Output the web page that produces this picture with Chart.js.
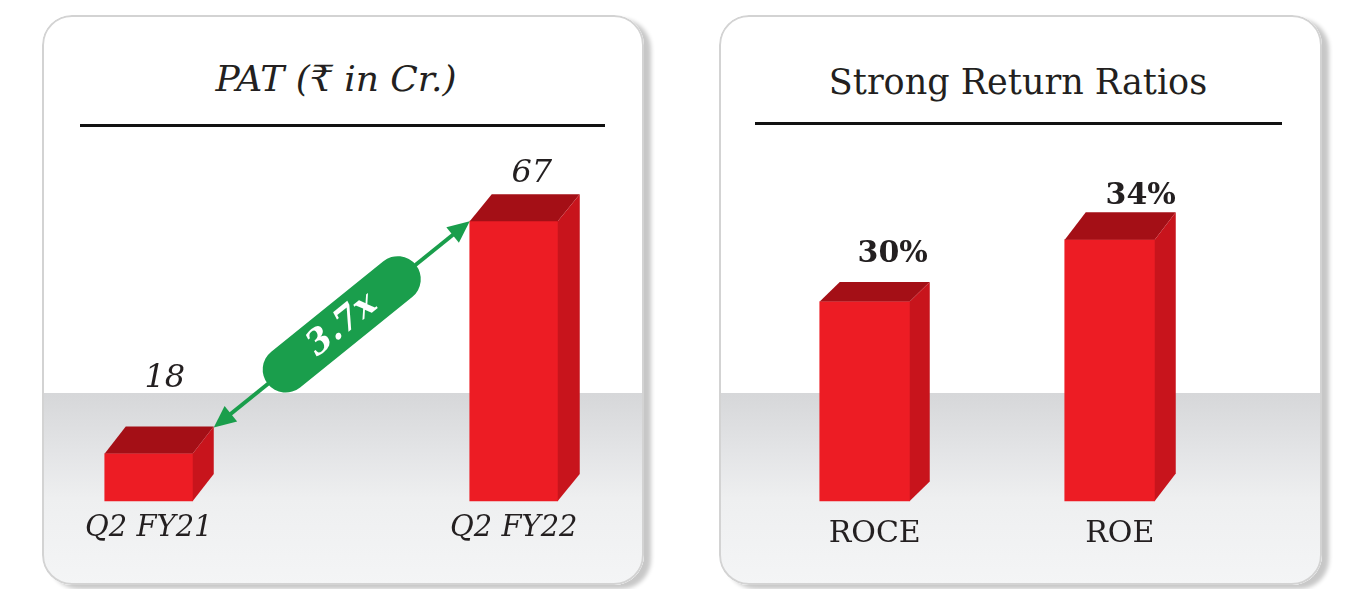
<!DOCTYPE html>
<html>
<head>
<meta charset="utf-8">
<script src="https://cdn.jsdelivr.net/npm/chart.js@4.4.0/dist/chart.umd.min.js"></script>
<style>
body { margin:0; width:1352px; height:589px; background:#fff; position:relative; overflow:hidden; font-family:"DejaVu Serif", "Noto Sans", serif; color:#231f20; }
.card { position:absolute; top:15px; height:570px; border-radius:30px; background:#fff; overflow:hidden; box-shadow: 7px 4px 4px rgba(0,0,0,0.22); }
.band { position:absolute; left:0; right:0; top:378px; bottom:0; background:linear-gradient(#d6d7d9, #e3e4e6 30%, #eeeff0 55%, #f4f5f6); }
.frame { position:absolute; left:0; top:0; right:0; bottom:0; border:2px solid #d3d3d3; border-radius:30px; pointer-events:none; }
.title { position:absolute; left:0; text-align:center; line-height:1; white-space:nowrap; }
.rule { position:absolute; height:3px; background:#111; }
.plot { position:absolute; left:0; top:0; width:100%; height:100%; }
</style>
</head>
<body>

<div class="card" style="left:42px; width:602px;">
  <div class="band"></div>
  <div class="title" style="top:46px; width:588px; font-size:36px; font-style:italic;">PAT (₹ in Cr.)</div>
  <div class="rule" style="left:38px; top:109px; width:525px;"></div>
  <div class="plot"><canvas id="chartPat"></canvas></div>
  <div class="frame"></div>
</div>

<div class="card" style="left:719px; width:603px;">
  <div class="band"></div>
  <div class="title" style="top:50px; width:598px; font-size:35px;">Strong Return Ratios</div>
  <div class="rule" style="left:36px; top:107px; width:527px;"></div>
  <div class="plot"><canvas id="chartRatio"></canvas></div>
  <div class="frame"></div>
</div>

<script>
// ****** datos ******
const patCategories = ['Q2 FY21', 'Q2 FY22'];
const patValues = [18, 67];
const patLabels = ['18', '67'];
const growthLabel = '3.7x';
const patAxis = [8, 82];

const ratioCategories = ['ROCE', 'ROE'];
const ratioValues = [30, 34];
const ratioLabels = ['30%', '34%'];
const ratioAxis = [17.1, 39.8];

const RED = '#ed1c24';
const RED_TOP = '#a40f16';
const RED_SIDE = '#c8141c';
const GREEN = '#1a9e4c';
const INK = '#231f20';

// ****** caras 3D + etiquetas de valor ******
function makeDepthPlugin(cfg) {
    return {
        id: 'depth3d',
        afterDatasetsDraw(chart) {
            const ctx = chart.ctx;
            const bars = chart.getDatasetMeta(0).data;
            bars.forEach(function(bar, i) {
                const p = bar.getProps(['x', 'y', 'base', 'width'], true);
                const xl = p.x - p.width / 2, xr = p.x + p.width / 2;
                const dx = cfg.dx[i], dy = cfg.dy[i];
                ctx.save();
                ctx.fillStyle = RED_TOP;
                ctx.beginPath();
                ctx.moveTo(xl, p.y); ctx.lineTo(xl + dx, p.y - dy);
                ctx.lineTo(xr + dx, p.y - dy); ctx.lineTo(xr, p.y);
                ctx.closePath(); ctx.fill();
                ctx.fillStyle = RED_SIDE;
                ctx.beginPath();
                ctx.moveTo(xr, p.y); ctx.lineTo(xr + dx, p.y - dy);
                ctx.lineTo(xr + dx, p.base - dy); ctx.lineTo(xr, p.base);
                ctx.closePath(); ctx.fill();

                ctx.font = cfg.font;
                ctx.fillStyle = INK;
                ctx.textAlign = 'center';
                ctx.textBaseline = 'alphabetic';
                ctx.fillText(cfg.labels[i], p.x + cfg.labelDx[i], p.y - dy - cfg.lift[i]);
                ctx.restore();
            });
        }
    };
}

// ****** flecha verde 3.7x ******
const growthArrow = {
    id: 'growthArrow',
    afterDatasetsDraw(chart) {
        const ctx = chart.ctx;
        const bars = chart.getDatasetMeta(0).data;
        const b0 = bars[0].getProps(['x', 'y', 'width'], true);
        const b1 = bars[1].getProps(['x', 'y', 'width'], true);
        const a = { x: b0.x + b0.width / 2 + 21, y: b0.y - 26 };
        const b = { x: b1.x - b1.width / 2, y: b1.y };
        const ang = Math.atan2(b.y - a.y, b.x - a.x);
        const len = Math.hypot(b.x - a.x, b.y - a.y);
        ctx.save();
        ctx.translate(a.x, a.y);
        ctx.rotate(ang);
        ctx.fillStyle = GREEN;
        ctx.strokeStyle = GREEN;
        ctx.lineWidth = 4;
        const head = 22, hw = 10;
        ctx.beginPath(); ctx.moveTo(head - 2, 0); ctx.lineTo(len - head + 2, 0); ctx.stroke();
        ctx.beginPath(); ctx.moveTo(0, 0); ctx.lineTo(head, -hw); ctx.lineTo(head, hw); ctx.closePath(); ctx.fill();
        ctx.beginPath(); ctx.moveTo(len, 0); ctx.lineTo(len - head, -hw); ctx.lineTo(len - head, hw); ctx.closePath(); ctx.fill();
        // pastilla
        const pl = 190, pt = 46, cx = len / 2;
        ctx.beginPath();
        ctx.roundRect(cx - pl / 2, -pt / 2, pl, pt, pt / 2);
        ctx.fill();
        ctx.fillStyle = '#fff';
        ctx.font = 'italic bold 34px "DejaVu Serif"';
        ctx.textAlign = 'center';
        ctx.textBaseline = 'middle';
        ctx.fillText(growthLabel, cx, 1);
        ctx.restore();
    }
};

/******Gráfica PAT******/
new Chart(document.getElementById('chartPat'), {
    type: 'bar',
    data: {
        labels: patCategories,
        datasets: [{
            data: patValues,
            base: patAxis[0],
            backgroundColor: RED,
            borderWidth: 0,
            barThickness: 88,
            clip: false
        }]
    },
    options: {
        responsive: true,
        maintainAspectRatio: false,
        animation: false,
        layout: { padding: { left: 106.75, right: 130.25, top: 135, bottom: 29.2 } },
        plugins: { legend: { display: false }, tooltip: { enabled: false } },
        scales: {
            x: {
                offset: false,
                grid: { display: false, drawTicks: false },
                border: { display: false },
                ticks: { color: INK, padding: 10, font: { family: 'DejaVu Serif', size: 29, style: 'italic', lineHeight: 1.2 } }
            },
            y: { display: false, min: patAxis[0], max: patAxis[1] }
        }
    },
    plugins: [makeDepthPlugin({
        dx: [21, 22], dy: [27, 27],
        labels: patLabels, labelDx: [16, 18], lift: [40, 12],
        font: 'italic 32px "DejaVu Serif"'
    }), growthArrow]
});

/******Gráfica ROCE / ROE******/
new Chart(document.getElementById('chartRatio'), {
    type: 'bar',
    data: {
        labels: ratioCategories,
        datasets: [{
            data: ratioValues,
            base: ratioAxis[0],
            backgroundColor: RED,
            borderWidth: 0,
            barThickness: 90,
            clip: false
        }]
    },
    options: {
        responsive: true,
        maintainAspectRatio: false,
        animation: false,
        layout: { padding: { left: 145.75, right: 212.25, top: 135, bottom: 18 } },
        plugins: { legend: { display: false }, tooltip: { enabled: false } },
        scales: {
            x: {
                offset: false,
                grid: { display: false, drawTicks: false },
                border: { display: false },
                ticks: { color: INK, padding: 15, labelOffset: 10, font: { family: 'DejaVu Serif', size: 30, lineHeight: 1.2 } }
            },
            y: { display: false, min: ratioAxis[0], max: ratioAxis[1] }
        }
    },
    plugins: [makeDepthPlugin({
        dx: [20, 21], dy: [19.5, 27.5],
        labels: ratioLabels, labelDx: [28, 31], lift: [20, 8],
        font: 'bold 30px "DejaVu Serif"'
    })]
});
</script>
</body>
</html>
